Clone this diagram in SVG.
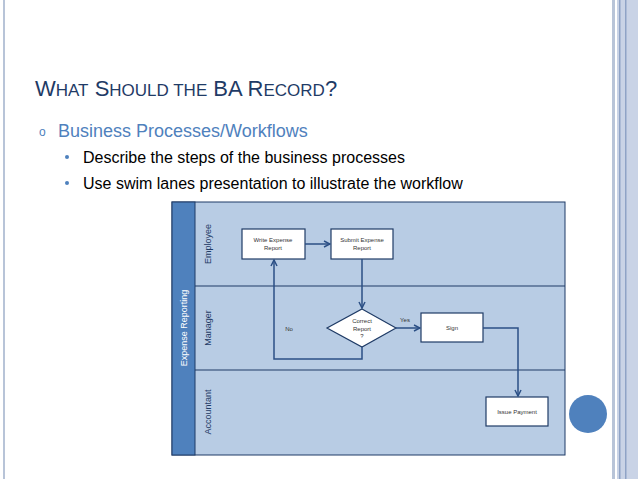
<svg xmlns="http://www.w3.org/2000/svg" width="638" height="479" viewBox="0 0 638 479">
<style>
.t{font-family:"Liberation Sans",Arial,sans-serif}
.box{fill:#fff;stroke:#1f3b66;stroke-width:1.2}
.bt{font-family:"Liberation Sans",Arial,sans-serif;font-size:6px;fill:#333;text-anchor:middle}
.ln{font-family:"Liberation Sans",Arial,sans-serif;font-size:9px;fill:#1f3b66;text-anchor:middle}
.c{fill:none;stroke:#2b4f85;stroke-width:1.5;marker-end:url(#a)}
</style>
<defs><marker id="a" markerWidth="8" markerHeight="8" refX="7" refY="4" orient="auto" markerUnits="userSpaceOnUse"><path d="M1,1 L7,4 L1,7" fill="none" stroke="#2b4f85" stroke-width="1.5"/></marker></defs>
<rect width="638" height="479" fill="#fff"/>
<rect x="3" y="0" width="2" height="479" fill="#b8c4d8"/>
<rect x="612" y="0" width="3" height="479" fill="#b8c4d8"/>
<rect x="617" y="0" width="21" height="479" fill="#c9d3e6"/>
<rect x="619" y="0" width="1.5" height="479" fill="#8fa3c6"/>
<rect x="625" y="0" width="1.5" height="479" fill="#8fa3c6"/>
<circle cx="588" cy="414" r="19" fill="#4f81bd"/>
<text x="35" y="96" class="t" font-size="22" fill="#1f3b66">W<tspan font-size="17">HAT</tspan> S<tspan font-size="17">HOULD THE</tspan> BA R<tspan font-size="17">ECORD</tspan>?</text>
<text x="39" y="136" class="t" font-size="12" fill="#4f81bd">o</text>
<text x="58" y="137" class="t" font-size="18" fill="#4f81bd">Business Processes/Workflows</text>
<circle cx="67" cy="157" r="2" fill="#4f81bd"/>
<circle cx="67" cy="183" r="2" fill="#4f81bd"/>
<text x="83" y="163" class="t" font-size="16" fill="#000">Describe the steps of the business processes</text>
<text x="83" y="189" class="t" font-size="16" fill="#000">Use swim lanes presentation to illustrate the workflow</text>
<g id="pool">
<rect x="172" y="202" width="393" height="253" fill="#b8cce4" stroke="#1f3b66" stroke-width="1"/>
<rect x="172" y="202" width="23" height="253" fill="#4f81bd" stroke="#1f3b66" stroke-width="1"/>
<line x1="195" y1="286" x2="565" y2="286" stroke="#1f3b66"/>
<line x1="195" y1="370" x2="565" y2="370" stroke="#1f3b66"/>
<text transform="translate(187,328) rotate(-90)" class="t" font-size="9" fill="#fff" text-anchor="middle">Expense Reporting</text>
<text transform="translate(211,244) rotate(-90)" class="ln">Employee</text>
<text transform="translate(211,328) rotate(-90)" class="ln">Manager</text>
<text transform="translate(211,412) rotate(-90)" class="ln">Accountant</text>
</g>
<g id="write"><rect class="box" x="242" y="229" width="63" height="30"/><text class="bt" x="273" y="242">Write Expense</text><text class="bt" x="273" y="250">Report</text></g>
<g id="submit"><rect class="box" x="331" y="229" width="62" height="30"/><text class="bt" x="362" y="242">Submit Expense</text><text class="bt" x="362" y="250">Report</text></g>
<g id="correct"><polygon class="box" points="362,309 396,328 362,347 327,328"/><text class="bt" x="362" y="323">Correct</text><text class="bt" x="362" y="331">Report</text><text class="bt" x="362" y="338">?</text></g>
<g id="sign"><rect class="box" x="421" y="313" width="62" height="29"/><text class="bt" x="452" y="330">Sign</text></g>
<g id="pay"><rect class="box" x="486" y="397" width="62" height="29"/><text class="bt" x="517" y="414">Issue Payment</text></g>
<g id="connectors">
<path class="c" d="M305,244 H330"/>
<path class="c" d="M362,259 V308"/>
<path class="c" d="M362,347 V359 H274 V260"/>
<path class="c" d="M396,328 H420"/>
<path class="c" d="M483,328 H518 V396"/>
<text class="bt" x="289" y="331">No</text>
<text class="bt" x="405" y="322">Yes</text>
</g>
</svg>
